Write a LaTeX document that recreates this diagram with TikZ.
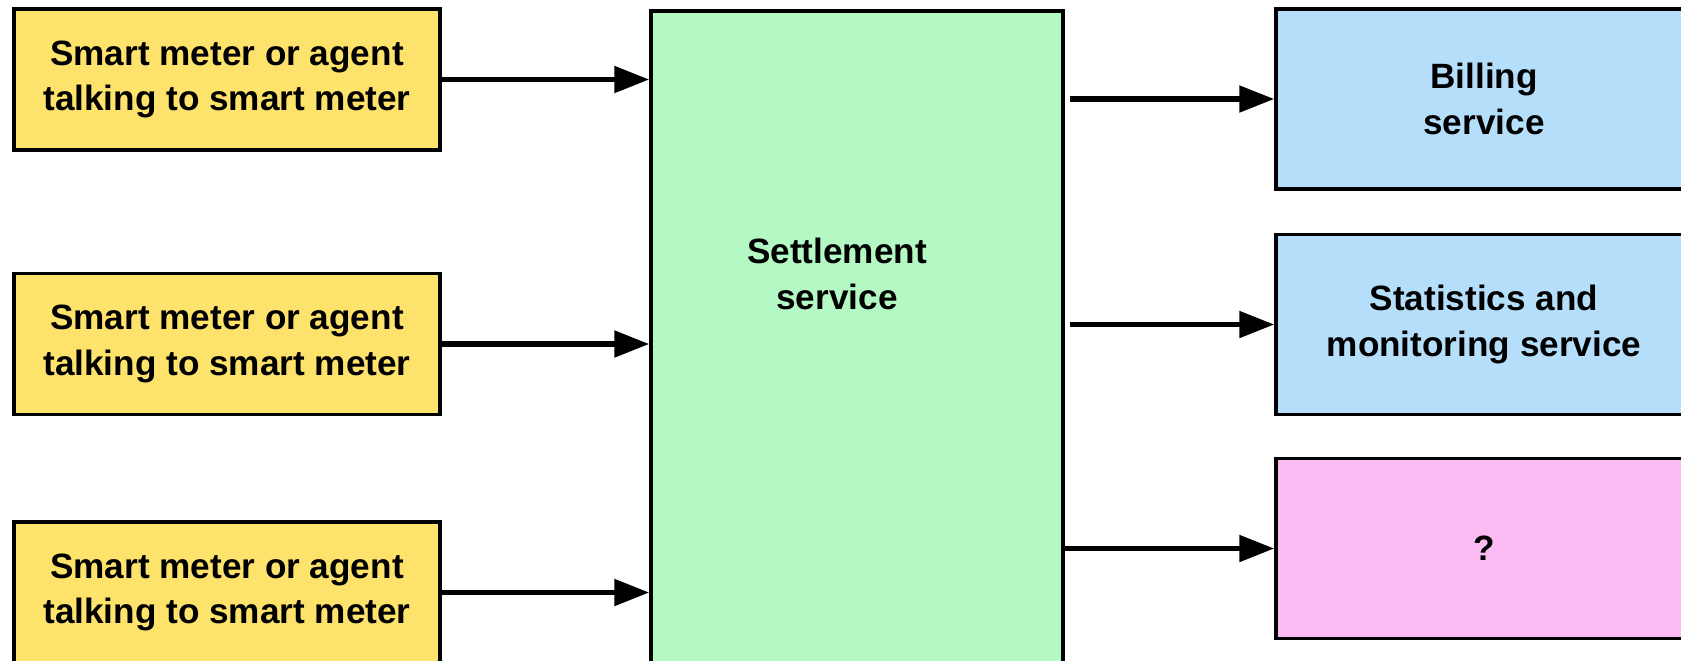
\documentclass[tikz,border=0pt]{standalone}
\usepackage{fontspec}
\setmainfont{Liberation Sans}
\usetikzlibrary{shapes,arrows.meta}

\definecolor{meterYellow}{HTML}{FDE26B}
\definecolor{settleGreen}{HTML}{B4F8C4}
\definecolor{serviceBlue}{HTML}{B4DEFA}
\definecolor{unknownPink}{HTML}{FBBAF1}

\tikzset{
  box/.style={draw, line width=1pt, align=center, inner sep=0pt,
    font=\bfseries\fontsize{10}{13}\selectfont},
  meter/.style={box, fill=meterYellow, minimum width=4.26cm, minimum height=1.41cm},
  service/.style={box, minimum width=4.16cm, minimum height=1.80cm},
  link/.style={->, line width=1.5pt},
  >={Triangle[length=3.5mm,width=2.6mm]}
}

\begin{document}
\begin{tikzpicture}

\clip (0,0) rectangle (16.81,-6.6);

\node (Meter1) [meter] at (2.27,-0.795) {Smart meter or agent\\talking to smart meter};
\node (Meter2) [meter, node distance=2.645cm, below of=Meter1] {Smart meter or agent\\talking to smart meter};
\node (Meter3) [meter, node distance=2.485cm, below of=Meter2] {Smart meter or agent\\talking to smart meter};

\node (Settle) [box, fill=settleGreen, minimum width=4.12cm, minimum height=7cm, anchor=north] at (8.57,-0.09) {};
\node (SettleText) [font=\bfseries\fontsize{10}{13}\selectfont, align=center] at (8.37,-2.74) {Settlement\\service};

\node (Billing) [service, fill=serviceBlue] at (14.84,-0.99) {Billing\\service};
\node (Stats) [service, fill=serviceBlue, node distance=2.255cm, below of=Billing] {Statistics and\\monitoring service};
\node (Unknown) [service, fill=unknownPink, node distance=2.24cm, below of=Stats] {?};

\draw [link] (Meter1.east) -- (Meter1.east -| Settle.west);
\draw [link] (Meter2.east) -- (Meter2.east -| Settle.west);
\draw [link] (Meter3.east) -- (Meter3.east -| Settle.west);

\draw [link, shorten <=0.05cm] (Billing.west -| Settle.east) -- (Billing.west);
\draw [link, shorten <=0.05cm] (Stats.west -| Settle.east) -- (Stats.west);
\draw [link] (Unknown.west -| Settle.east) -- (Unknown.west);

\end{tikzpicture}
\end{document}
